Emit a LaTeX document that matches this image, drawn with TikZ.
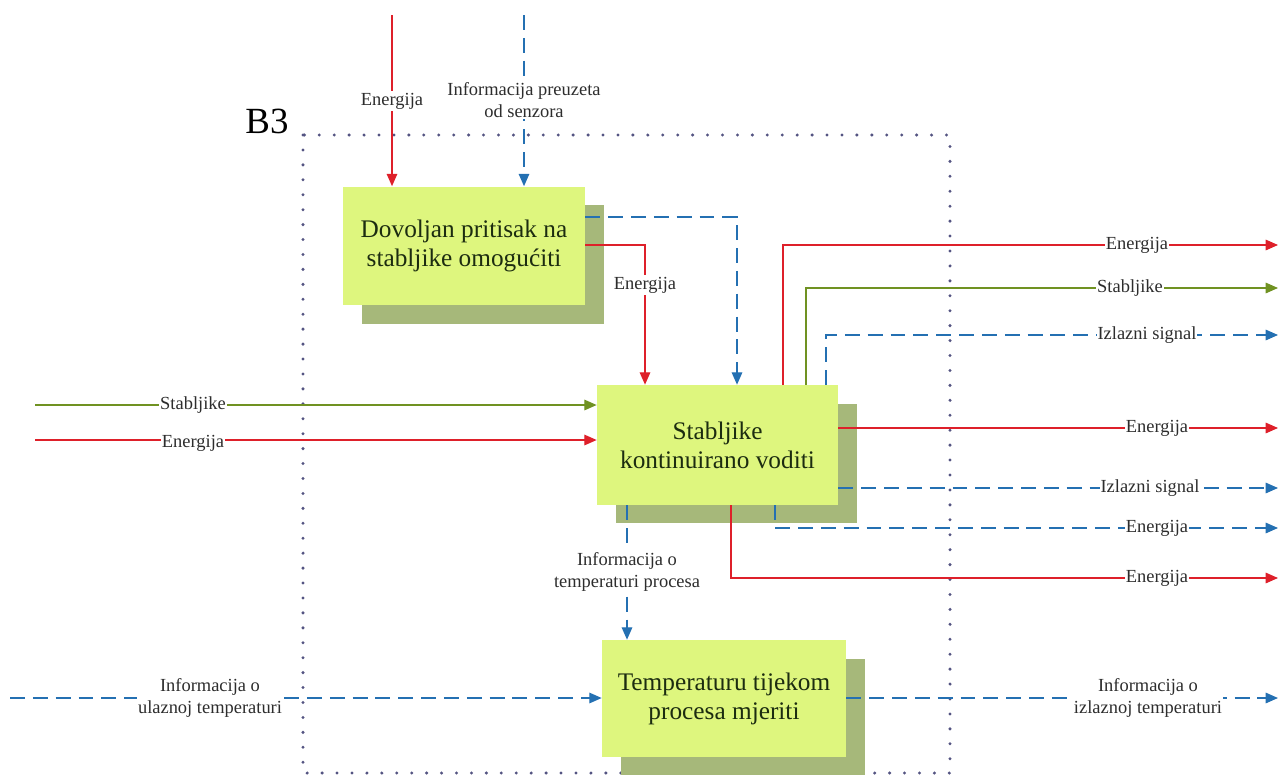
\documentclass[tikz,border=0pt]{standalone}
\usepackage{fontspec}
\setmainfont{Liberation Serif}
\usetikzlibrary{arrows.meta,shadows}
\definecolor{ered}{RGB}{222,32,42}
\definecolor{egreen}{RGB}{112,146,34}
\definecolor{eblue}{RGB}{36,112,178}
\definecolor{boxfill}{RGB}{222,246,126}
\definecolor{shadowc}{RGB}{166,184,122}
\definecolor{boxtext}{RGB}{28,44,16}
\definecolor{lbltext}{RGB}{45,45,45}
\definecolor{framec}{RGB}{84,84,130}
\begin{document}
\begin{tikzpicture}[x=0.02cm,y=-0.02cm,
  fn/.style={draw=none, fill=boxfill, inner sep=0pt, align=center,
    font=\fontsize{14.4}{16.6}\selectfont, text=boxtext,
    drop shadow={shadow xshift=0.38cm, shadow yshift=-0.37cm, fill=shadowc, opacity=1}},
  arr/.style={-{Triangle[width=6pt,length=7pt]}, line width=0.7pt},
  rline/.style={arr, draw=ered},
  gline/.style={arr, draw=egreen},
  bline/.style={arr, draw=eblue, dash pattern=on 8.5pt off 4.5pt},
  lbl/.style={fill=white, inner xsep=0.6pt, inner ysep=1pt, align=center,
    font=\fontsize{10.5}{12.5}\selectfont, text=lbltext},
  frame/.style={draw=framec, line width=1.9pt, line cap=round, dash pattern=on 0pt off 8.5pt}]
\useasboundingbox (0,0) rectangle (1288,775);

% dotted frame
\draw[frame] (303,135) rectangle (950,773);
\node[font=\fontsize{21}{21}\selectfont, inner sep=0pt] (frameLabel) at (267,121) {B3};

% function boxes
\node[fn, minimum width=4.84cm, minimum height=2.38cm] (b1) at (464,246) {Dovoljan pritisak na\\stabljike omogućiti};
\node[fn, minimum width=4.82cm, minimum height=2.40cm] (b2) at (717.5,445) {Stabljike\\kontinuirano voditi};
\node[fn, minimum width=4.88cm, minimum height=2.34cm] (b3) at (724,698.5) {Temperaturu tijekom\\procesa mjeriti};

% free ends
\coordinate (tE) at (392,15);
\coordinate (tI) at (524,15);
\coordinate (lS) at (35,405);
\coordinate (lE) at (35,440);
\coordinate (lI) at (10,698);
\coordinate (oE1) at (1278,245);
\coordinate (oS1) at (1278,288);
\coordinate (oI1) at (1278,335);
\coordinate (oE2) at (1278,428);
\coordinate (oI2) at (1278,488);
\coordinate (oE3) at (1278,528);
\coordinate (oE4) at (1278,578);
\coordinate (oI5) at (1278,698);

% inputs to box 1
\draw[rline] (tE) -- (tE |- b1.north);
\node[lbl] at (392,101) {Energija};
\draw[bline] (tI) -- (tI |- b1.north);
\node[lbl] at (524,100) {Informacija preuzeta\\od senzora};

% box 1 -> box 2
\draw[bline] (b1.east |- 0,217) -| (b2.north -| 737,0);
\draw[rline] (b1.east |- 0,245) -| (b2.north -| 645,0);
\node[lbl] at (645,285) {Energija};

% left inputs to box 2
\draw[gline] (lS) -- (b2.west |- lS);
\node[lbl] at (193,405) {Stabljike};
\draw[rline] (lE) -- (b2.west |- lE);
\node[lbl] at (193,443) {Energija};

% outputs of box 2
\draw[rline] (b2.north -| 783,0) |- (oE1);
\node[lbl] at (1137,245) {Energija};
\draw[gline] (b2.north -| 806,0) |- (oS1);
\node[lbl] at (1130,288) {Stabljike};
\draw[bline] (b2.north -| 826,0) |- (oI1);
\node[lbl] at (1147,335) {Izlazni signal};
\draw[rline] (b2.east |- oE2) -- (oE2);
\node[lbl] at (1157,428) {Energija};
\draw[bline] (b2.east |- oI2) -- (oI2);
\node[lbl] at (1150,488) {Izlazni signal};
\draw[bline] (b2.south -| 775,0) |- (oE3);
\node[lbl] at (1157,528) {Energija};
\draw[rline] (b2.south -| 731,0) |- (oE4);
\node[lbl] at (1157,578) {Energija};

% box 2 -> box 3
\draw[bline] (b2.south -| 627,0) -- (b3.north -| 627,0);
\node[lbl] at (627,572) {Informacija o\\temperaturi procesa};

% box 3 in/out
\draw[bline] (lI) -- (b3.west |- lI);
\node[lbl] at (210,698) {Informacija o\\ulaznoj temperaturi};
\draw[bline] (b3.east |- oI5) -- (oI5);
\node[lbl] at (1148,698) {Informacija o\\izlaznoj temperaturi};
\end{tikzpicture}
\end{document}
